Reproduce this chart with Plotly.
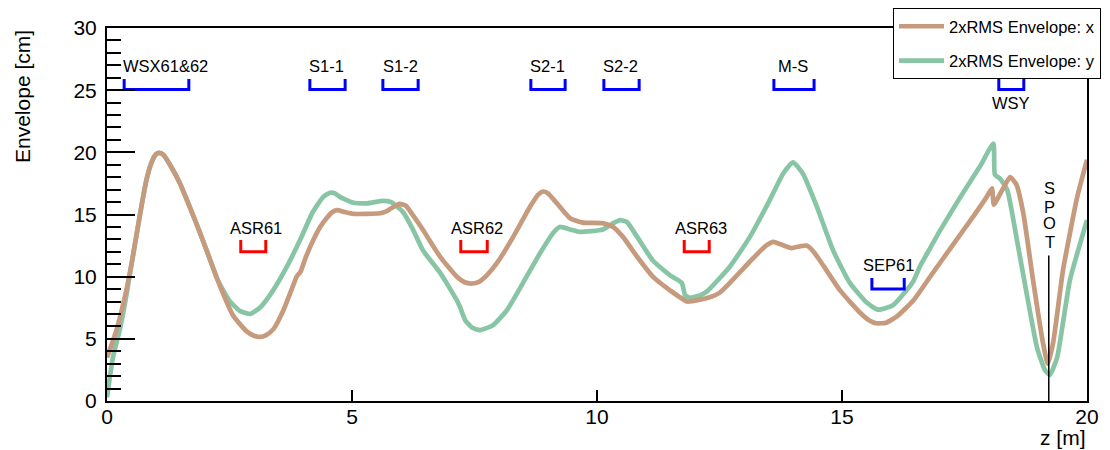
import plotly.graph_objects as go

# ---------------- data ----------------
z_x = [0, 0.1, 0.2, 0.3, 0.4, 0.5, 0.6, 0.7, 0.8, 0.9, 1.0, 1.06, 1.15, 1.3, 1.49, 1.7, 1.9, 2.1,
       2.31, 2.57, 2.85, 3.0, 3.12, 3.25, 3.4, 3.6, 3.8, 3.87, 3.95, 4.05, 4.21, 4.35, 4.48, 4.6,
       4.69, 4.85, 5.03, 5.3, 5.57, 5.7, 5.8, 5.97, 6.1, 6.25, 6.45, 6.8, 7.14, 7.3, 7.45, 7.6,
       7.75, 7.96, 8.29, 8.63, 8.8, 8.9, 9.0, 9.18, 9.45, 9.71, 10.12, 10.33, 10.53, 10.82, 11.14,
       11.49, 11.84, 12.1, 12.3, 12.5, 12.71, 13.19, 13.45, 13.6, 13.75, 13.97, 14.15, 14.28, 14.4,
       14.55, 14.96, 15.37, 15.55, 15.7, 15.9, 16.12, 16.46, 16.8, 17.27, 17.6, 17.95, 18.06,
       18.1, 18.26, 18.43, 18.56, 18.7, 18.9, 19.1, 19.2, 19.31, 19.51, 19.8, 20]
env_x = [3.5, 4.6, 5.8, 7.3, 9.0, 11.0, 13.3, 15.6, 17.7, 19.1, 19.85, 19.95, 19.8, 18.9, 17.5, 15.5,
         13.5, 11.4, 9.2, 6.9, 5.6, 5.25, 5.15, 5.3, 5.8, 7.3, 9.3, 10.0, 10.4, 11.5, 12.95, 14.0,
         14.7, 15.2, 15.35, 15.2, 15.05, 15.05, 15.1, 15.25, 15.5, 15.85, 15.7, 14.9, 13.75, 11.6,
         10.0, 9.55, 9.45, 9.6, 10.1, 11.1, 13.2, 15.6, 16.6, 16.85, 16.7, 15.9, 14.7, 14.35, 14.3,
         14.0, 13.2, 11.6, 10.0, 8.9, 8.0, 8.15, 8.35, 8.7, 9.5, 11.5, 12.5, 12.8, 12.6, 12.3, 12.45,
         12.5, 12.1, 11.3, 8.9, 7.1, 6.5, 6.25, 6.3, 6.8, 8.1, 10.0, 12.6, 14.4, 16.4, 17.1,
         15.8, 16.9, 18.0, 17.4, 15.1, 9.7, 4.7, 3.0, 4.7, 10.5, 16.4, 19.4]

z_y = [0, 0.12, 0.27, 0.4, 0.5, 0.6, 0.7, 0.8, 0.9, 1.0, 1.06, 1.15, 1.3, 1.49, 1.7, 1.9, 2.1, 2.24,
       2.4, 2.51, 2.71, 2.92, 3.12, 3.39, 3.67, 3.94, 4.2, 4.41, 4.55, 4.65, 4.76, 5.03, 5.31, 5.63,
       5.8, 6.04, 6.25, 6.45, 6.8, 7.14, 7.2, 7.31, 7.45, 7.61, 7.88, 8.16, 8.49, 8.84, 9.1, 9.24,
       9.45, 9.65, 10.12, 10.33, 10.47, 10.61, 10.82, 11.14, 11.49, 11.73, 11.8, 11.9, 12.1, 12.24,
       12.71, 13.12, 13.53, 13.8, 14.0, 14.2, 14.49, 14.82, 15.16, 15.51, 15.73, 16.04, 16.45, 16.6,
       16.8, 17.0, 17.4, 17.82, 18.09, 18.12, 18.22, 18.37, 18.57, 18.78, 18.98, 19.14, 19.24,
       19.39, 19.65, 20]
env_y = [0.3, 3.5, 5.9, 8.6, 11.0, 13.3, 15.6, 17.7, 19.1, 19.85, 19.95, 19.8, 18.9, 17.5, 15.5, 13.5,
         11.4, 9.9, 8.7, 8.0, 7.25, 7.0, 7.5, 8.9, 10.8, 12.95, 15.2, 16.4, 16.75, 16.7, 16.4, 15.95,
         15.9, 16.1, 16.0, 15.2, 13.75, 12.1, 10.3, 8.1, 7.6, 6.5, 5.9, 5.7, 6.1, 7.3, 9.5, 11.9,
         13.5, 14.0, 13.8, 13.6, 13.8, 14.3, 14.55, 14.4, 13.2, 11.3, 10.1, 9.5, 8.5, 8.3, 8.5, 8.8,
         10.8, 13.2, 16.2, 18.3, 19.2, 18.3, 15.6, 12.1, 9.5, 7.9, 7.35, 7.7, 9.6, 10.9, 12.3, 13.7,
         16.3, 18.9, 20.7, 18.2, 17.9, 17.0, 12.95, 8.4, 4.3, 2.5, 2.1, 3.5, 9.7, 14.55]

# beamline elements (z ranges in m)
blue_names = ["WSX61&62", "S1-1", "S1-2", "S2-1", "S2-2", "M-S", "WSY", "SEP61"]
blue_start = [0.35, 4.14, 5.63, 8.65, 10.14, 13.61, 18.2, 15.61]
blue_end = [1.67, 4.86, 6.35, 9.35, 10.86, 14.43, 18.71, 16.27]
red_names = ["ASR61", "ASR62", "ASR63"]
red_start = [2.73, 7.22, 11.78]
red_end = [3.24, 7.76, 12.29]
spot_z = 19.22

x_ticks = [0, 5, 10, 15, 20]

# ---------------- style / layout ----------------
FONT = "Liberation Sans, Arial, sans-serif"
C_X = "#c69a7c"
C_Y = "#88c5a5"
L, R, T, B = 107, 23, 28, 49
W, H = 1110, 450
pw, ph = W - L - R, H - T - B

# bracket levels (low, high) and label placement (dz, y)
blue_level = {n: (25.05, 25.9) for n in blue_names}
blue_level["SEP61"] = (9.0, 9.9)
blue_label = {"WSX61&62": (0.19, 26.95), "S1-1": (-0.03, 26.95), "S1-2": (-0.01, 26.95),
              "S2-1": (-0.02, 26.95), "S2-2": (-0.03, 26.95), "M-S": (-0.02, 26.95),
              "WSY": (-0.01, 24.0), "SEP61": (0.0, 10.9)}
red_level = (12.0, 12.95)
red_label = {"ASR61": (0.06, 13.9), "ASR62": (0.06, 13.9), "ASR63": (0.085, 13.9)}

fig = go.Figure()

fig.add_trace(go.Scatter(x=z_y, y=env_y, mode="lines", name="2xRMS Envelope: y",
                         line=dict(color=C_Y, width=4.7, shape="spline", smoothing=0.5),
                         legendgroup="y", legendrank=2))
fig.add_trace(go.Scatter(x=z_x, y=env_x, mode="lines", name="2xRMS Envelope: x",
                         line=dict(color=C_X, width=4.7, shape="spline", smoothing=0.5),
                         legendgroup="x", legendrank=1))


def bracket(z0, z1, lo, hi, color):
    fig.add_trace(go.Scatter(x=[z0, z0, z1, z1], y=[hi, lo, lo, hi], mode="lines",
                             line=dict(color=color, width=3), showlegend=False,
                             hoverinfo="skip"))


annotations = []
for n, a, b in zip(blue_names, blue_start, blue_end):
    lo, hi = blue_level[n]
    bracket(a, b, lo, hi, "#0000ff")
    dz, ly = blue_label[n]
    annotations.append(dict(x=(a + b) / 2 + dz, y=ly, text=n, showarrow=False,
                            xanchor="center", yanchor="middle",
                            font=dict(family=FONT, size=16.5, color="black")))
for n, a, b in zip(red_names, red_start, red_end):
    bracket(a, b, red_level[0], red_level[1], "#ff0000")
    dz, ly = red_label[n]
    annotations.append(dict(x=(a + b) / 2 + dz, y=ly, text=n, showarrow=False,
                            xanchor="center", yanchor="middle",
                            font=dict(family=FONT, size=16.5, color="black")))

# SPOT marker
fig.add_shape(type="line", x0=spot_z, x1=spot_z, y0=0, y1=11.7,
              line=dict(color="black", width=1.5))
for ch, yy in zip("SPOT", [17.1, 15.6, 14.3, 12.8]):
    annotations.append(dict(x=spot_z + 0.02, y=yy, text=ch, showarrow=False,
                            xanchor="center", yanchor="middle",
                            font=dict(family=FONT, size=16.5, color="black")))

# axis titles
annotations.append(dict(xref="paper", yref="paper", x=(22 - L) / pw, y=(H - B - 97) / ph,
                        text="Envelope [cm]", textangle=-90, showarrow=False,
                        xanchor="center", yanchor="middle",
                        font=dict(family=FONT, size=21, color="black")))
annotations.append(dict(xref="paper", yref="paper", x=1.0, y=(H - B - 450) / ph,
                        text="z [m]", showarrow=False, xanchor="right", yanchor="bottom",
                        borderpad=0, font=dict(family=FONT, size=21, color="black")))

fig.update_layout(
    width=W, height=H,
    margin=dict(l=L, r=R, t=T, b=B, autoexpand=False),
    paper_bgcolor="white", plot_bgcolor="white",
    font=dict(family=FONT, size=21, color="black"),
    annotations=annotations,
    showlegend=True,
    legend=dict(x=(893 - L) / pw, y=(H - B - 8) / ph, xanchor="left", yanchor="top",
                bgcolor="white", bordercolor="black", borderwidth=1,
                font=dict(family=FONT, size=16.5, color="black"),
                tracegroupgap=10, itemwidth=45, entrywidth=156),
)
fig.update_xaxes(range=[0, 20], tickvals=x_ticks, ticks="inside", ticklen=11, tickwidth=1.5,
                 tickcolor="black", showline=True, linecolor="black", linewidth=2, mirror=True,
                 showgrid=False, zeroline=False, tickfont=dict(family=FONT, size=21),
                 ticklabelstandoff=-4)
fig.update_yaxes(range=[0, 30], dtick=5, ticks="inside", ticklen=28, tickwidth=2,
                 tickcolor="black", showline=True, linecolor="black", linewidth=2, mirror=True,
                 showgrid=False, zeroline=False, tickfont=dict(family=FONT, size=21),
                 ticklabelstandoff=4,
                 minor=dict(dtick=1, ticks="inside", ticklen=14, tickwidth=2, tickcolor="black",
                            showgrid=False))

fig.write_html("out.html", config={"displayModeBar": False},
               post_script="document.body.style.margin='0';"
                           "document.body.style.overflow='hidden';")
